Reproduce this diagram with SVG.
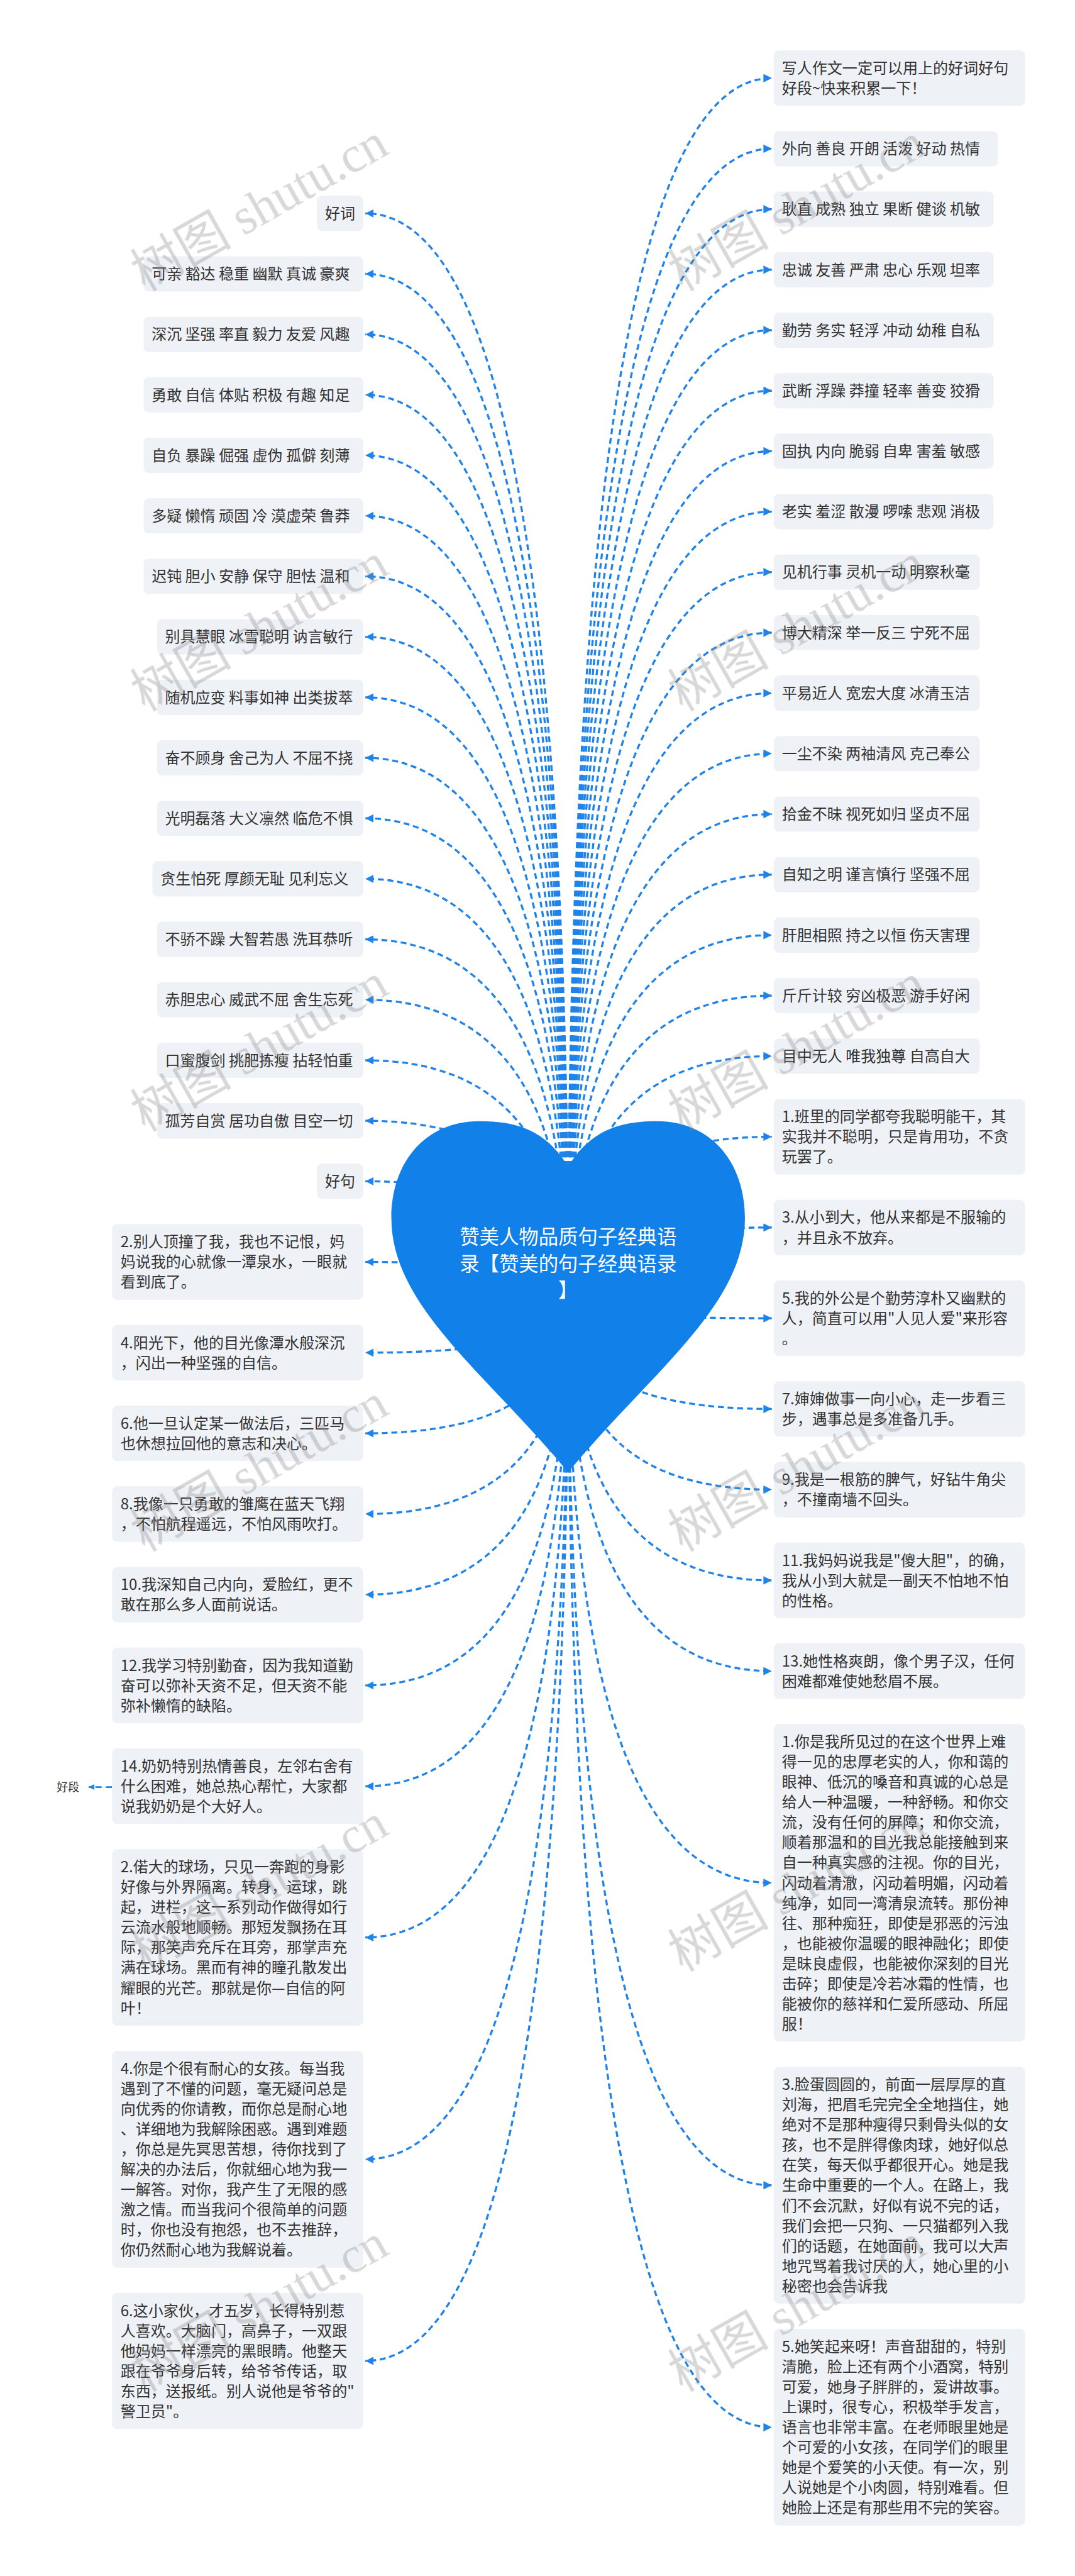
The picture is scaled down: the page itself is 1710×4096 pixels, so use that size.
<svg xmlns="http://www.w3.org/2000/svg" width="1710" height="4096" viewBox="0 0 1710 4096">
<style>
.box{fill:#eef1f6}
.t{font-family:"Noto Sans CJK SC","Noto Sans",sans-serif;font-size:36px;fill:#333333}
.c path{fill:none;stroke:#1f83e9;stroke-width:5;stroke-dasharray:14 9}
.ht{font-family:"Noto Sans CJK SC","Noto Sans",sans-serif;font-size:47px;fill:#ffffff;text-anchor:middle}
.wm{font-family:"Liberation Serif","Noto Sans CJK SC",serif;font-size:120px;fill:#8a8a8a;opacity:.33}
</style>
<defs>
<marker id="ah" markerUnits="userSpaceOnUse" markerWidth="20" markerHeight="20" refX="20" refY="10" orient="auto"><path d="M0,0 L20,10 L0,20 Z" fill="#1f83e9"/></marker>
<marker id="ahs" markerUnits="userSpaceOnUse" markerWidth="14" markerHeight="14" refX="14" refY="7" orient="auto"><path d="M0,0 L14,7 L0,14 Z" fill="#1f83e9"/></marker>
</defs>
<rect width="1710" height="4096" fill="#ffffff"/>
<g transform="scale(0.66797)">
<g id="connectors" class="c">
<path marker-end="url(#ah)" d="M1353,3100 Q1353,186 1838,186"/>
<path marker-end="url(#ah)" d="M1353,3100 Q1353,354 1838,354"/>
<path marker-end="url(#ah)" d="M1353,3100 Q1353,498 1838,498"/>
<path marker-end="url(#ah)" d="M1353,3100 Q1353,642 1838,642"/>
<path marker-end="url(#ah)" d="M1353,3100 Q1353,786 1838,786"/>
<path marker-end="url(#ah)" d="M1353,3100 Q1353,930 1838,930"/>
<path marker-end="url(#ah)" d="M1353,3100 Q1353,1074 1838,1074"/>
<path marker-end="url(#ah)" d="M1353,3100 Q1353,1218 1838,1218"/>
<path marker-end="url(#ah)" d="M1353,3100 Q1353,1362 1838,1362"/>
<path marker-end="url(#ah)" d="M1353,3100 Q1353,1506 1838,1506"/>
<path marker-end="url(#ah)" d="M1353,3100 Q1353,1650 1838,1650"/>
<path marker-end="url(#ah)" d="M1353,3100 Q1353,1794 1838,1794"/>
<path marker-end="url(#ah)" d="M1353,3100 Q1353,1938 1838,1938"/>
<path marker-end="url(#ah)" d="M1353,3100 Q1353,2082 1838,2082"/>
<path marker-end="url(#ah)" d="M1353,3100 Q1353,2226 1838,2226"/>
<path marker-end="url(#ah)" d="M1353,3100 Q1353,2370 1838,2370"/>
<path marker-end="url(#ah)" d="M1353,3100 Q1353,2514 1838,2514"/>
<path marker-end="url(#ah)" d="M1353,3100 Q1353,2706 1838,2706"/>
<path marker-end="url(#ah)" d="M1353,3100 Q1353,2922 1838,2922"/>
<path marker-end="url(#ah)" d="M1353,3100 Q1353,3138 1838,3138"/>
<path marker-end="url(#ah)" d="M1353,3100 Q1353,3354 1838,3354"/>
<path marker-end="url(#ah)" d="M1353,3100 Q1353,3546 1838,3546"/>
<path marker-end="url(#ah)" d="M1353,3100 Q1353,3762 1838,3762"/>
<path marker-end="url(#ah)" d="M1353,3100 Q1353,3978 1838,3978"/>
<path marker-end="url(#ah)" d="M1353,3100 Q1353,4482 1838,4482"/>
<path marker-end="url(#ah)" d="M1353,3100 Q1353,5202 1838,5202"/>
<path marker-end="url(#ah)" d="M1353,3100 Q1353,5778 1838,5778"/>
<path marker-end="url(#ah)" d="M1353,3100 Q1353,508 870,508"/>
<path marker-end="url(#ah)" d="M1353,3100 Q1353,652 870,652"/>
<path marker-end="url(#ah)" d="M1353,3100 Q1353,796 870,796"/>
<path marker-end="url(#ah)" d="M1353,3100 Q1353,940 870,940"/>
<path marker-end="url(#ah)" d="M1353,3100 Q1353,1084 870,1084"/>
<path marker-end="url(#ah)" d="M1353,3100 Q1353,1228 870,1228"/>
<path marker-end="url(#ah)" d="M1353,3100 Q1353,1372 870,1372"/>
<path marker-end="url(#ah)" d="M1353,3100 Q1353,1516 870,1516"/>
<path marker-end="url(#ah)" d="M1353,3100 Q1353,1660 870,1660"/>
<path marker-end="url(#ah)" d="M1353,3100 Q1353,1804 870,1804"/>
<path marker-end="url(#ah)" d="M1353,3100 Q1353,1948 870,1948"/>
<path marker-end="url(#ah)" d="M1353,3100 Q1353,2092 870,2092"/>
<path marker-end="url(#ah)" d="M1353,3100 Q1353,2236 870,2236"/>
<path marker-end="url(#ah)" d="M1353,3100 Q1353,2380 870,2380"/>
<path marker-end="url(#ah)" d="M1353,3100 Q1353,2524 870,2524"/>
<path marker-end="url(#ah)" d="M1353,3100 Q1353,2668 870,2668"/>
<path marker-end="url(#ah)" d="M1353,3100 Q1353,2812 870,2812"/>
<path marker-end="url(#ah)" d="M1353,3100 Q1353,3004 870,3004"/>
<path marker-end="url(#ah)" d="M1353,3100 Q1353,3220 870,3220"/>
<path marker-end="url(#ah)" d="M1353,3100 Q1353,3412 870,3412"/>
<path marker-end="url(#ah)" d="M1353,3100 Q1353,3604 870,3604"/>
<path marker-end="url(#ah)" d="M1353,3100 Q1353,3796 870,3796"/>
<path marker-end="url(#ah)" d="M1353,3100 Q1353,4012 870,4012"/>
<path marker-end="url(#ah)" d="M1353,3100 Q1353,4252 870,4252"/>
<path marker-end="url(#ah)" d="M1353,3100 Q1353,4612 870,4612"/>
<path marker-end="url(#ah)" d="M1353,3100 Q1353,5140 870,5140"/>
<path marker-end="url(#ah)" d="M1353,3100 Q1353,5620 870,5620"/>
<path marker-end="url(#ahs)" style="stroke-width:4;stroke-dasharray:15 10" d="M267,4254 L211,4254"/>
</g>
<g id="root">
<path d="M1353,2777 C1300,2690 1230,2669 1142,2669 C1010,2669 932,2770 932,2900 C932,3110 1160,3270 1353,3505 C1546,3270 1774,3110 1774,2900 C1774,2770 1696,2669 1564,2669 C1476,2669 1406,2690 1353,2777 Z" fill="#1180e8"/>
<text class="ht"><tspan x="1353" y="2961">赞美人物品质句子经典语</tspan><tspan x="1353" y="3025">录【赞美的句子经典语录</tspan><tspan x="1353" y="3089">】</tspan></text>
</g>
<g id="r1"><rect class="box" x="1843" y="120" width="598" height="132" rx="12"/><text class="t"><tspan x="1862" y="175">写人作文一定可以用上的好词好句</tspan><tspan x="1862" dy="48">好段~快来积累一下！</tspan></text></g>
<g id="r2"><rect class="box" x="1843" y="312" width="533" height="84" rx="12"/><text class="t" x="1862" y="367">外向 善良 开朗 活泼 好动 热情</text></g>
<g id="r3"><rect class="box" x="1843" y="456" width="523" height="84" rx="12"/><text class="t" x="1862" y="511">耿直 成熟 独立 果断 健谈 机敏</text></g>
<g id="r4"><rect class="box" x="1843" y="600" width="523" height="84" rx="12"/><text class="t" x="1862" y="655">忠诚 友善 严肃 忠心 乐观 坦率</text></g>
<g id="r5"><rect class="box" x="1843" y="744" width="523" height="84" rx="12"/><text class="t" x="1862" y="799">勤劳 务实 轻浮 冲动 幼稚 自私</text></g>
<g id="r6"><rect class="box" x="1843" y="888" width="523" height="84" rx="12"/><text class="t" x="1862" y="943">武断 浮躁 莽撞 轻率 善变 狡猾</text></g>
<g id="r7"><rect class="box" x="1843" y="1032" width="523" height="84" rx="12"/><text class="t" x="1862" y="1087">固执 内向 脆弱 自卑 害羞 敏感</text></g>
<g id="r8"><rect class="box" x="1843" y="1176" width="523" height="84" rx="12"/><text class="t" x="1862" y="1231">老实 羞涩 散漫 啰嗦 悲观 消极</text></g>
<g id="r9"><rect class="box" x="1843" y="1320" width="490" height="84" rx="12"/><text class="t" x="1862" y="1375">见机行事 灵机一动 明察秋毫</text></g>
<g id="r10"><rect class="box" x="1843" y="1464" width="490" height="84" rx="12"/><text class="t" x="1862" y="1519">博大精深 举一反三 宁死不屈</text></g>
<g id="r11"><rect class="box" x="1843" y="1608" width="490" height="84" rx="12"/><text class="t" x="1862" y="1663">平易近人 宽宏大度 冰清玉洁</text></g>
<g id="r12"><rect class="box" x="1843" y="1752" width="490" height="84" rx="12"/><text class="t" x="1862" y="1807">一尘不染 两袖清风 克己奉公</text></g>
<g id="r13"><rect class="box" x="1843" y="1896" width="490" height="84" rx="12"/><text class="t" x="1862" y="1951">拾金不昧 视死如归 坚贞不屈</text></g>
<g id="r14"><rect class="box" x="1843" y="2040" width="490" height="84" rx="12"/><text class="t" x="1862" y="2095">自知之明 谨言慎行 坚强不屈</text></g>
<g id="r15"><rect class="box" x="1843" y="2184" width="490" height="84" rx="12"/><text class="t" x="1862" y="2239">肝胆相照 持之以恒 伤天害理</text></g>
<g id="r16"><rect class="box" x="1843" y="2328" width="490" height="84" rx="12"/><text class="t" x="1862" y="2383">斤斤计较 穷凶极恶 游手好闲</text></g>
<g id="r17"><rect class="box" x="1843" y="2472" width="490" height="84" rx="12"/><text class="t" x="1862" y="2527">目中无人 唯我独尊 自高自大</text></g>
<g id="r18"><rect class="box" x="1843" y="2616" width="598" height="180" rx="12"/><text class="t"><tspan x="1862" y="2671">1.班里的同学都夸我聪明能干，其</tspan><tspan x="1862" dy="48">实我并不聪明，只是肯用功，不贪</tspan><tspan x="1862" dy="48">玩罢了。</tspan></text></g>
<g id="r19"><rect class="box" x="1843" y="2856" width="598" height="132" rx="12"/><text class="t"><tspan x="1862" y="2911">3.从小到大，他从来都是不服输的</tspan><tspan x="1862" dy="48">，并且永不放弃。</tspan></text></g>
<g id="r20"><rect class="box" x="1843" y="3048" width="598" height="180" rx="12"/><text class="t"><tspan x="1862" y="3103">5.我的外公是个勤劳淳朴又幽默的</tspan><tspan x="1862" dy="48">人，简直可以用"人见人爱"来形容</tspan><tspan x="1862" dy="48">。</tspan></text></g>
<g id="r21"><rect class="box" x="1843" y="3288" width="598" height="132" rx="12"/><text class="t"><tspan x="1862" y="3343">7.婶婶做事一向小心，走一步看三</tspan><tspan x="1862" dy="48">步，遇事总是多准备几手。</tspan></text></g>
<g id="r22"><rect class="box" x="1843" y="3480" width="598" height="132" rx="12"/><text class="t"><tspan x="1862" y="3535">9.我是一根筋的脾气，好钻牛角尖</tspan><tspan x="1862" dy="48">，不撞南墙不回头。</tspan></text></g>
<g id="r23"><rect class="box" x="1843" y="3672" width="598" height="180" rx="12"/><text class="t"><tspan x="1862" y="3727">11.我妈妈说我是"傻大胆"，的确，</tspan><tspan x="1862" dy="48">我从小到大就是一副天不怕地不怕</tspan><tspan x="1862" dy="48">的性格。</tspan></text></g>
<g id="r24"><rect class="box" x="1843" y="3912" width="598" height="132" rx="12"/><text class="t"><tspan x="1862" y="3967">13.她性格爽朗，像个男子汉，任何</tspan><tspan x="1862" dy="48">困难都难使她愁眉不展。</tspan></text></g>
<g id="r25"><rect class="box" x="1843" y="4104" width="598" height="756" rx="12"/><text class="t"><tspan x="1862" y="4159">1.你是我所见过的在这个世界上难</tspan><tspan x="1862" dy="48">得一见的忠厚老实的人，你和蔼的</tspan><tspan x="1862" dy="48">眼神、低沉的嗓音和真诚的心总是</tspan><tspan x="1862" dy="48">给人一种温暖，一种舒畅。和你交</tspan><tspan x="1862" dy="48">流，没有任何的屏障；和你交流，</tspan><tspan x="1862" dy="48">顺着那温和的目光我总能接触到来</tspan><tspan x="1862" dy="48">自一种真实感的注视。你的目光，</tspan><tspan x="1862" dy="48">闪动着清澈，闪动着明媚，闪动着</tspan><tspan x="1862" dy="48">纯净，如同一湾清泉流转。那份神</tspan><tspan x="1862" dy="48">往、那种痴狂，即使是邪恶的污浊</tspan><tspan x="1862" dy="48">，也能被你温暖的眼神融化；即使</tspan><tspan x="1862" dy="48">是昧良虚假，也能被你深刻的目光</tspan><tspan x="1862" dy="48">击碎；即使是冷若冰霜的性情，也</tspan><tspan x="1862" dy="48">能被你的慈祥和仁爱所感动、所屈</tspan><tspan x="1862" dy="48">服！</tspan></text></g>
<g id="r26"><rect class="box" x="1843" y="4920" width="598" height="564" rx="12"/><text class="t"><tspan x="1862" y="4975">3.脸蛋圆圆的，前面一层厚厚的直</tspan><tspan x="1862" dy="48">刘海，把眉毛完完全全地挡住，她</tspan><tspan x="1862" dy="48">绝对不是那种瘦得只剩骨头似的女</tspan><tspan x="1862" dy="48">孩，也不是胖得像肉球，她好似总</tspan><tspan x="1862" dy="48">在笑，每天似乎都很开心。她是我</tspan><tspan x="1862" dy="48">生命中重要的一个人。在路上，我</tspan><tspan x="1862" dy="48">们不会沉默，好似有说不完的话，</tspan><tspan x="1862" dy="48">我们会把一只狗、一只猫都列入我</tspan><tspan x="1862" dy="48">们的话题，在她面前，我可以大声</tspan><tspan x="1862" dy="48">地咒骂着我讨厌的人，她心里的小</tspan><tspan x="1862" dy="48">秘密也会告诉我</tspan></text></g>
<g id="r27"><rect class="box" x="1843" y="5544" width="598" height="468" rx="12"/><text class="t"><tspan x="1862" y="5599">5.她笑起来呀！声音甜甜的，特别</tspan><tspan x="1862" dy="48">清脆，脸上还有两个小酒窝，特别</tspan><tspan x="1862" dy="48">可爱，她身子胖胖的，爱讲故事。</tspan><tspan x="1862" dy="48">上课时，很专心，积极举手发言，</tspan><tspan x="1862" dy="48">语言也非常丰富。在老师眼里她是</tspan><tspan x="1862" dy="48">个可爱的小女孩，在同学们的眼里</tspan><tspan x="1862" dy="48">她是个爱笑的小天使。有一次，别</tspan><tspan x="1862" dy="48">人说她是个小肉圆，特别难看。但</tspan><tspan x="1862" dy="48">她脸上还是有那些用不完的笑容。</tspan></text></g>
<g id="haoci"><rect class="box" x="755" y="466" width="110" height="84" rx="12"/><text class="t" x="774" y="521">好词</text></g>
<g id="l1"><rect class="box" x="342" y="610" width="523" height="84" rx="12"/><text class="t" x="361" y="665">可亲 豁达 稳重 幽默 真诚 豪爽</text></g>
<g id="l2"><rect class="box" x="342" y="754" width="523" height="84" rx="12"/><text class="t" x="361" y="809">深沉 坚强 率直 毅力 友爱 风趣</text></g>
<g id="l3"><rect class="box" x="342" y="898" width="523" height="84" rx="12"/><text class="t" x="361" y="953">勇敢 自信 体贴 积极 有趣 知足</text></g>
<g id="l4"><rect class="box" x="342" y="1042" width="523" height="84" rx="12"/><text class="t" x="361" y="1097">自负 暴躁 倔强 虚伪 孤僻 刻薄</text></g>
<g id="l5"><rect class="box" x="342" y="1186" width="523" height="84" rx="12"/><text class="t" x="361" y="1241">多疑 懒惰 顽固 冷 漠虚荣 鲁莽</text></g>
<g id="l6"><rect class="box" x="342" y="1330" width="523" height="84" rx="12"/><text class="t" x="361" y="1385">迟钝 胆小 安静 保守 胆怯 温和</text></g>
<g id="l7"><rect class="box" x="374" y="1474" width="491" height="84" rx="12"/><text class="t" x="393" y="1529">别具慧眼 冰雪聪明 讷言敏行</text></g>
<g id="l8"><rect class="box" x="374" y="1618" width="491" height="84" rx="12"/><text class="t" x="393" y="1673">随机应变 料事如神 出类拔萃</text></g>
<g id="l9"><rect class="box" x="374" y="1762" width="491" height="84" rx="12"/><text class="t" x="393" y="1817">奋不顾身 舍己为人 不屈不挠</text></g>
<g id="l10"><rect class="box" x="374" y="1906" width="491" height="84" rx="12"/><text class="t" x="393" y="1961">光明磊落 大义凛然 临危不惧</text></g>
<g id="l11"><rect class="box" x="363" y="2050" width="502" height="84" rx="12"/><text class="t" x="382" y="2105">贪生怕死 厚颜无耻 见利忘义</text></g>
<g id="l12"><rect class="box" x="374" y="2194" width="491" height="84" rx="12"/><text class="t" x="393" y="2249">不骄不躁 大智若愚 洗耳恭听</text></g>
<g id="l13"><rect class="box" x="374" y="2338" width="491" height="84" rx="12"/><text class="t" x="393" y="2393">赤胆忠心 威武不屈 舍生忘死</text></g>
<g id="l14"><rect class="box" x="374" y="2482" width="491" height="84" rx="12"/><text class="t" x="393" y="2537">口蜜腹剑 挑肥拣瘦 拈轻怕重</text></g>
<g id="l15"><rect class="box" x="374" y="2626" width="491" height="84" rx="12"/><text class="t" x="393" y="2681">孤芳自赏 居功自傲 目空一切</text></g>
<g id="haoju"><rect class="box" x="755" y="2770" width="110" height="84" rx="12"/><text class="t" x="774" y="2825">好句</text></g>
<g id="l16"><rect class="box" x="267" y="2914" width="598" height="180" rx="12"/><text class="t"><tspan x="287" y="2969">2.别人顶撞了我，我也不记恨，妈</tspan><tspan x="287" dy="48">妈说我的心就像一潭泉水，一眼就</tspan><tspan x="287" dy="48">看到底了。</tspan></text></g>
<g id="l17"><rect class="box" x="267" y="3154" width="598" height="132" rx="12"/><text class="t"><tspan x="287" y="3209">4.阳光下，他的目光像潭水般深沉</tspan><tspan x="287" dy="48">，闪出一种坚强的自信。</tspan></text></g>
<g id="l18"><rect class="box" x="267" y="3346" width="598" height="132" rx="12"/><text class="t"><tspan x="287" y="3401">6.他一旦认定某一做法后，三匹马</tspan><tspan x="287" dy="48">也休想拉回他的意志和决心。</tspan></text></g>
<g id="l19"><rect class="box" x="267" y="3538" width="598" height="132" rx="12"/><text class="t"><tspan x="287" y="3593">8.我像一只勇敢的雏鹰在蓝天飞翔</tspan><tspan x="287" dy="48">，不怕航程遥远，不怕风雨吹打。</tspan></text></g>
<g id="l20"><rect class="box" x="267" y="3730" width="598" height="132" rx="12"/><text class="t"><tspan x="287" y="3785">10.我深知自己内向，爱脸红，更不</tspan><tspan x="287" dy="48">敢在那么多人面前说话。</tspan></text></g>
<g id="l21"><rect class="box" x="267" y="3922" width="598" height="180" rx="12"/><text class="t"><tspan x="287" y="3977">12.我学习特别勤奋，因为我知道勤</tspan><tspan x="287" dy="48">奋可以弥补天资不足，但天资不能</tspan><tspan x="287" dy="48">弥补懒惰的缺陷。</tspan></text></g>
<g id="l22"><rect class="box" x="267" y="4162" width="598" height="180" rx="12"/><text class="t"><tspan x="287" y="4217">14.奶奶特别热情善良，左邻右舍有</tspan><tspan x="287" dy="48">什么困难，她总热心帮忙，大家都</tspan><tspan x="287" dy="48">说我奶奶是个大好人。</tspan></text></g>
<g id="haoduan"><text class="t" style="font-size:27px" x="135" y="4264">好段</text></g>
<g id="l23"><rect class="box" x="267" y="4402" width="598" height="420" rx="12"/><text class="t"><tspan x="287" y="4457">2.偌大的球场，只见一奔跑的身影</tspan><tspan x="287" dy="48">好像与外界隔离。转身，运球，跳</tspan><tspan x="287" dy="48">起，进栏，这一系列动作做得如行</tspan><tspan x="287" dy="48">云流水般地顺畅。那短发飘扬在耳</tspan><tspan x="287" dy="48">际，那笑声充斥在耳旁，那掌声充</tspan><tspan x="287" dy="48">满在球场。黑而有神的瞳孔散发出</tspan><tspan x="287" dy="48">耀眼的光芒。那就是你—自信的阿</tspan><tspan x="287" dy="48">叶！</tspan></text></g>
<g id="l24"><rect class="box" x="267" y="4882" width="598" height="516" rx="12"/><text class="t"><tspan x="287" y="4937">4.你是个很有耐心的女孩。每当我</tspan><tspan x="287" dy="48">遇到了不懂的问题，毫无疑问总是</tspan><tspan x="287" dy="48">向优秀的你请教，而你总是耐心地</tspan><tspan x="287" dy="48">、详细地为我解除困惑。遇到难题</tspan><tspan x="287" dy="48">，你总是先冥思苦想，待你找到了</tspan><tspan x="287" dy="48">解决的办法后，你就细心地为我一</tspan><tspan x="287" dy="48">一解答。对你，我产生了无限的感</tspan><tspan x="287" dy="48">激之情。而当我问个很简单的问题</tspan><tspan x="287" dy="48">时，你也没有抱怨，也不去推辞，</tspan><tspan x="287" dy="48">你仍然耐心地为我解说着。</tspan></text></g>
<g id="l25"><rect class="box" x="267" y="5458" width="598" height="324" rx="12"/><text class="t"><tspan x="287" y="5513">6.这小家伙，才五岁，长得特别惹</tspan><tspan x="287" dy="48">人喜欢。大脑门，高鼻子，一双跟</tspan><tspan x="287" dy="48">他妈妈一样漂亮的黑眼睛。他整天</tspan><tspan x="287" dy="48">跟在爷爷身后转，给爷爷传话，取</tspan><tspan x="287" dy="48">东西，送报纸。别人说他是爷爷的"</tspan><tspan x="287" dy="48">警卫员"。</tspan></text></g>
<g id="watermarks" class="wm">
<text transform="translate(345,695) rotate(-29.5)">树图 shutu.cn</text>
<text transform="translate(1625,695) rotate(-29.5)">树图 shutu.cn</text>
<text transform="translate(345,1695) rotate(-29.5)">树图 shutu.cn</text>
<text transform="translate(1625,1695) rotate(-29.5)">树图 shutu.cn</text>
<text transform="translate(345,2695) rotate(-29.5)">树图 shutu.cn</text>
<text transform="translate(1625,2695) rotate(-29.5)">树图 shutu.cn</text>
<text transform="translate(345,3695) rotate(-29.5)">树图 shutu.cn</text>
<text transform="translate(1625,3695) rotate(-29.5)">树图 shutu.cn</text>
<text transform="translate(345,4695) rotate(-29.5)">树图 shutu.cn</text>
<text transform="translate(1625,4695) rotate(-29.5)">树图 shutu.cn</text>
<text transform="translate(345,5695) rotate(-29.5)">树图 shutu.cn</text>
<text transform="translate(1625,5695) rotate(-29.5)">树图 shutu.cn</text>
</g>
</g>
</svg>
